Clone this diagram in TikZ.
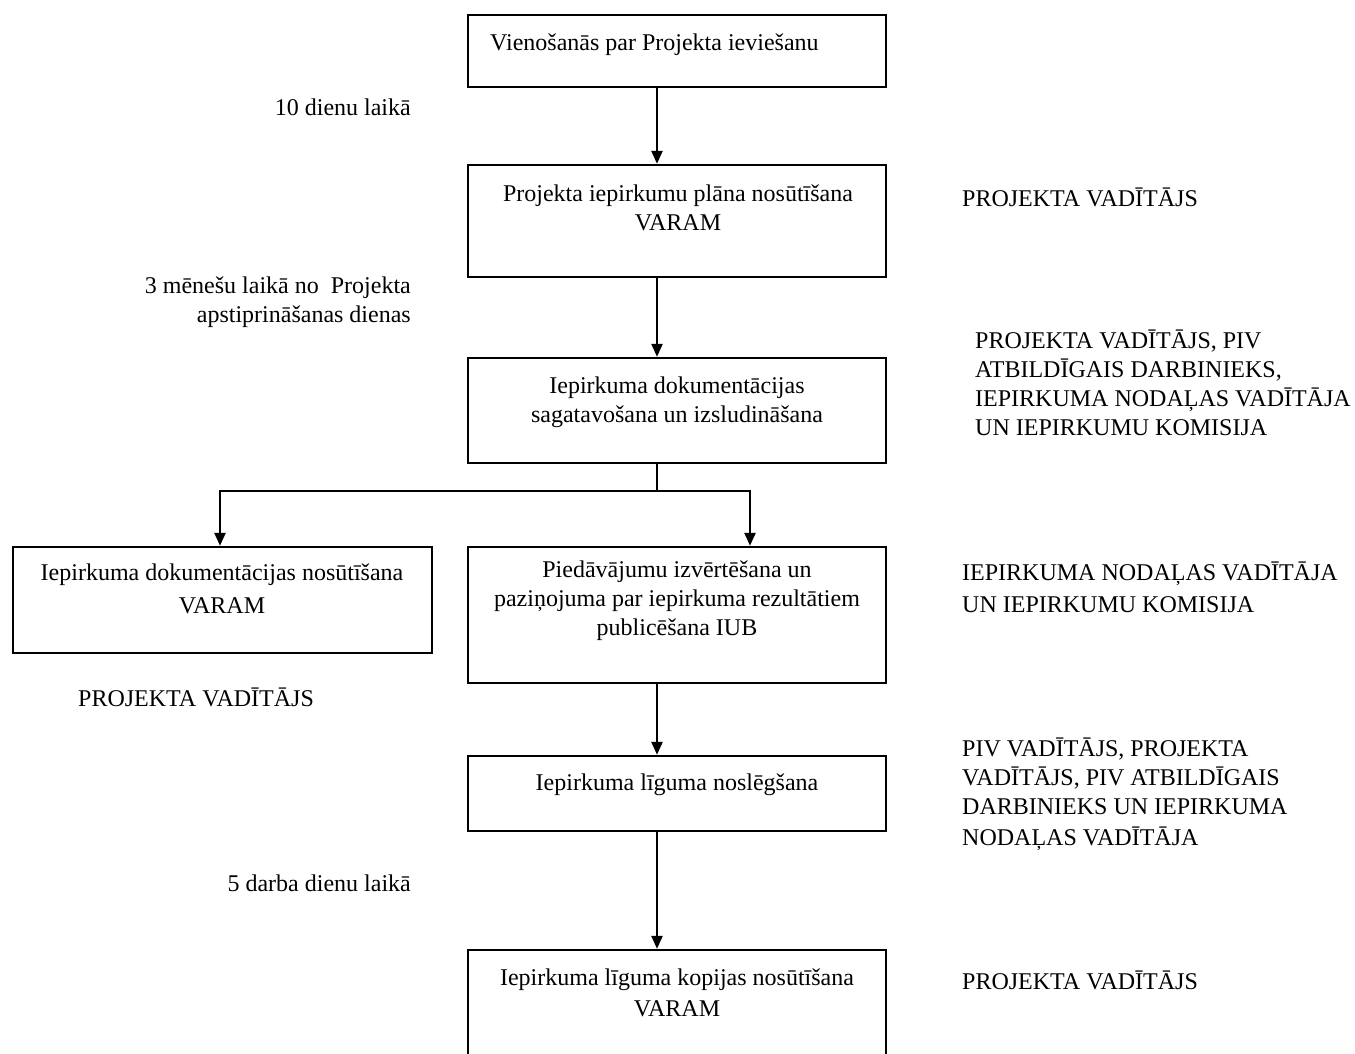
\documentclass[tikz,border=0pt]{standalone}
\usepackage{fontspec}
\setmainfont{Liberation Serif}
\usetikzlibrary{arrows.meta}
\begin{document}
\begin{tikzpicture}[x=1pt,y=-1pt,
  box/.style={draw, line width=2.4pt, minimum width=418pt, inner sep=0pt},
  txt/.style={font=\fontsize{24}{29}\selectfont, align=center, inner sep=0pt},
  lbl/.style={font=\fontsize{24}{29}\selectfont, inner sep=0pt},
  flow/.style={line width=2.4pt, -{Triangle[width=11pt,length=13pt]}},
  joint/.style={line width=1.4pt}]
\path[use as bounding box] (0,0) rectangle (1355,1053);

% process boxes
\node[box, minimum height=72pt]  (b1)  at (677,51) {};
\node[box, minimum height=112pt] (b2)  at (677,221) {};
\node[box, minimum height=105pt] (b3)  at (677,410.5) {};
\node[box, minimum height=106pt, minimum width=419pt] (b4l) at (222.5,600) {};
\node[box, minimum height=136pt] (b4r) at (677,615) {};
\node[box, minimum height=75pt]  (b5)  at (677,793.5) {};
\node[box, minimum height=130pt] (b6)  at (677,1015) {};

% box texts
\node[txt, anchor=west] (t1) at (490,45) {Vienošanās par Projekta ieviešanu};
\node[txt] (t2) at (678,207.5) {Projekta iepirkumu plāna nosūtīšana\\VARAM};
\node[txt] (t3) at (677,402.5) {Iepirkuma dokumentācijas\\sagatavošana un izsludināšana};
\node[txt] (t4l) at (222,588.5) {Iepirkuma dokumentācijas nosūtīšana\\[4pt]VARAM};
\node[txt] (t4r) at (677,601) {Piedāvājumu izvērtēšana un\\paziņojuma par iepirkuma rezultātiem\\publicēšana IUB};
\node[txt] (t5) at (677,785) {Iepirkuma līguma noslēgšana};
\node[txt] (t6) at (677,992.5) {Iepirkuma līguma kopijas nosūtīšana\\[2pt]VARAM};

% deadlines on the left
\node[lbl, anchor=east] (d1) at (411,107) {10 dienu laikā};
\node[lbl, anchor=east, align=right] (d2) at (411,302) {3 mēnešu laikā no\ \ Projekta\\apstiprināšanas dienas};
\node[lbl, anchor=east] (d3) at (411,883) {5 darba dienu laikā};
\node[lbl, anchor=west] (r0) at (78,697) {PROJEKTA VADĪTĀJS};

% responsible persons on the right
\node[lbl, anchor=west] (r1) at (962,197) {PROJEKTA VADĪTĀJS};
\node[lbl, anchor=west, align=left] (r2) at (975,383) {PROJEKTA VADĪTĀJS, PIV\\ATBILDĪGAIS DARBINIEKS,\\IEPIRKUMA NODAĻAS VADĪTĀJA\\UN IEPIRKUMU KOMISIJA};
\node[lbl, anchor=west, align=left] (r3) at (962,587) {IEPIRKUMA NODAĻAS VADĪTĀJA\\[3pt]UN IEPIRKUMU KOMISIJA};
\node[lbl, anchor=west, align=left] (r4) at (962,794) {PIV VADĪTĀJS, PROJEKTA\\VADĪTĀJS, PIV ATBILDĪGAIS\\DARBINIEKS UN IEPIRKUMA\\[2pt]NODAĻAS VADĪTĀJA};
\node[lbl, anchor=west] (r5) at (962,980) {PROJEKTA VADĪTĀJS};

% connectors
\coordinate (spine) at (657,0);
\coordinate (fork) at (657,491);
\coordinate (lx) at (220,0);
\coordinate (rx) at (750,0);
\draw[flow] (b1.south -| spine) -- (b2.north -| spine);
\draw[flow] (b2.south -| spine) -- (b3.north -| spine);
\draw[joint] (b3.south -| spine) -- (fork);
\draw[flow] (fork) -| (b4l.north -| lx);
\draw[flow] (fork) -| (b4r.north -| rx);
\draw[flow] (b4r.south -| spine) -- (b5.north -| spine);
\draw[flow] (b5.south -| spine) -- (b6.north -| spine);
\end{tikzpicture}
\end{document}
